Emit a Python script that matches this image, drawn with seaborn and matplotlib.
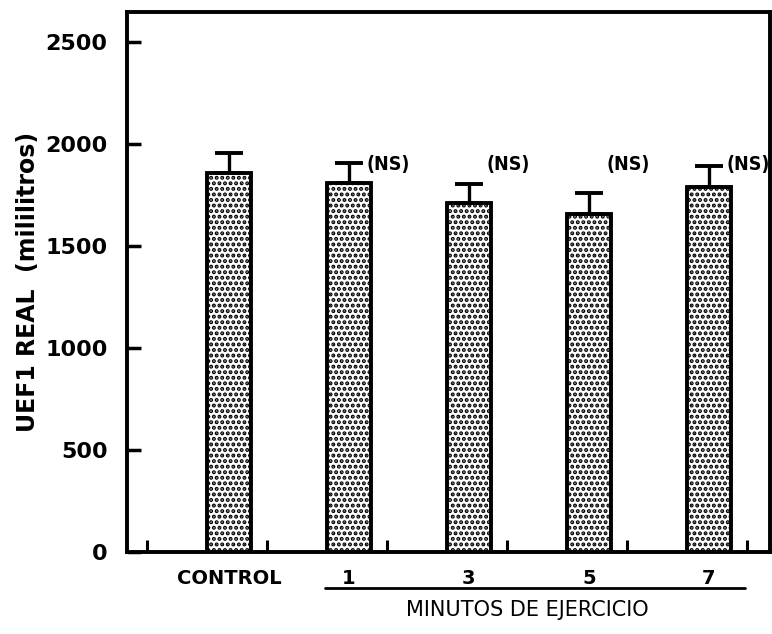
import matplotlib
matplotlib.use("Agg")
import matplotlib.pyplot as plt
import seaborn as sns
import pandas as pd
import numpy as np
from matplotlib.lines import Line2D

categories = ["CONTROL", "1", "3", "5", "7"]
means = [1860, 1810, 1710, 1660, 1790]
errors = [100, 100, 95, 100, 105]
ns_labels = ["", "(NS)", "(NS)", "(NS)", "(NS)"]
y_ticks = [0, 500, 1000, 1500, 2000, 2500]

sns.set_theme(style="white")
plt.rcParams['font.family'] = ['DejaVu Sans']
plt.rcParams['hatch.linewidth'] = 2.0
plt.rcParams['text.color'] = 'black'
plt.rcParams['axes.labelcolor'] = 'black'
plt.rcParams['xtick.color'] = 'black'
plt.rcParams['ytick.color'] = 'black'

df = pd.DataFrame({"cat": categories, "val": means})

fig = plt.figure(figsize=(7.72, 6.34), dpi=100)
ax = fig.add_axes([0.1645, 0.1293, 0.833, 0.852])

sns.barplot(data=df, x="cat", y="val", ax=ax, color="white", width=0.37,
            edgecolor="black", linewidth=2.8, errorbar=None, hatch="...")

xs = np.arange(len(categories))
ax.errorbar(xs, means, yerr=[[0]*len(means), errors], fmt="none",
            ecolor="black", elinewidth=2.4, capsize=10, capthick=2.8, zorder=3)

for x, m, e, lab in zip(xs, means, errors, ns_labels):
    if lab:
        ax.text(x + 0.15, 1900, lab, fontsize=14, fontweight="bold",
                ha="left", va="center", color="black",
                fontstretch="condensed", clip_on=False)

ax.set_xlim(-0.85, 4.51)
ax.set_ylim(0, 2650)
ax.set_yticks(y_ticks)
ax.set_yticklabels([str(t) for t in y_ticks], fontsize=16, fontweight="bold")
ax.tick_params(axis="y", direction="in", length=10, width=2.5, pad=14, left=True)
ax.set_xticks(xs)
ax.set_xticklabels(categories, fontsize=14, fontweight="bold")
ax.tick_params(axis="x", which="major", length=0, pad=12)
ax.set_xticks(np.arange(6) - 0.68, minor=True)
ax.tick_params(axis="x", which="minor", direction="in", length=9, width=2.2, bottom=True)

for s in ax.spines.values():
    s.set_linewidth(2.8)
    s.set_color("black")

ax.set_xlabel("")
ax.set_ylabel("UEF1 REAL  (mililitros)", fontsize=17, fontweight="bold", labelpad=4)

# underline for the minutes group
fig.add_artist(Line2D([325/772, 745/772], [1-588/634, 1-588/634],
                      color="black", linewidth=2, transform=fig.transFigure))
fig.text(527/772, 1-610/634, "MINUTOS DE EJERCICIO", fontsize=15,
         ha="center", va="center", color="black")

fig.savefig("out.png", dpi=100)
